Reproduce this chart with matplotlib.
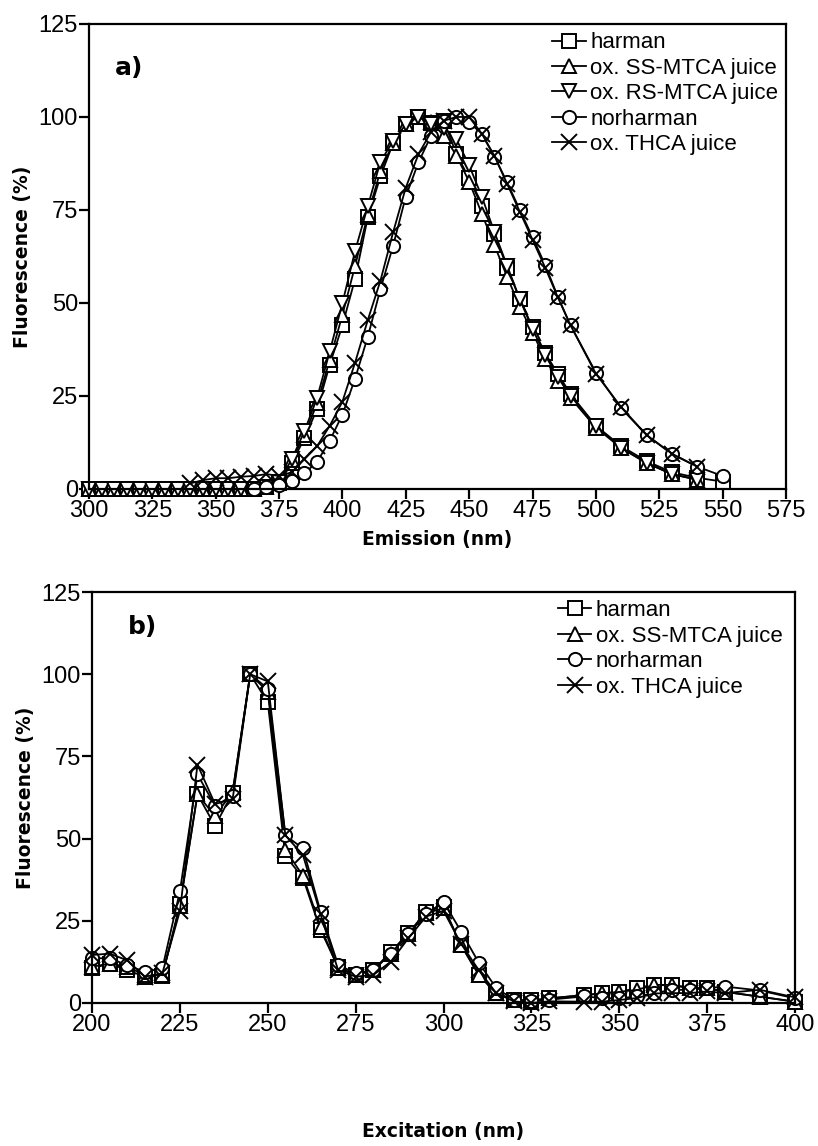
import numpy as np
import matplotlib
matplotlib.use('Agg')
import matplotlib.pyplot as plt

nan = np.nan

# pannello a) spettri di emissione
em_x = list(range(300, 495, 5)) + [500, 510, 520, 530, 540, 550]

harman_a = [0, 0, 0, 0, 0, 0, 0, 0, 0, 0, 0, 0, 0, 0, 0.5, 1.5,
            7, 13.6, 21.5, 33.4, 44, 56.5, 73, 84, 93, 98, 100, 98.5, 99,
            90, 83.5, 76, 68.5, 59.5, 51, 43.5, 36.5, 31, 25.5,
            17, 11.5, 7.5, 4.5, 3, 2]
ss_mtca_a = [0, 0, 0, 0, 0, 0, 0, 0, 0, 0, 0, 0, 0, 0, 0.5, 2,
             7.8, 14.5, 23, 34.7, 46.8, 60, 73.7, 85.5, 93, 98, 100, 98.7, 95,
             89.6, 82.6, 74, 65.5, 57, 49, 42, 35, 29, 24.5,
             16.5, 11, 7, 4, 2.5, nan]
rs_mtca_a = [0, 0, 0, 0, 0, 0, 0, 0, 0, 0, 0, 0, 0, 0, 0.5, 2,
             8, 15.5, 24.5, 37, 50, 64, 76, 88, 93.5, 98, 100, 98, 97,
             94, 87, 78.6, 69, 60, 51, 43, 36, 30, 25,
             17, 11, 7, 4, 2.5, nan]
norharman_a = [nan, nan, nan, nan, nan, nan, nan, nan, nan, nan, nan, nan, nan, 0, 0.5, 1,
               2.2, 4.2, 7.3, 13, 20, 29.7, 40.9, 53.7, 65.4, 78.6, 87.8, 95, 99,
               100, 98.7, 95.4, 89.3, 82.4, 75, 67.7, 60.2, 51.7, 44,
               31.3, 21.7, 14.5, 9.4, 6, 3.5]
thca_a = [nan, nan, nan, nan, nan, nan, nan, nan, 1.5, 2.4, 2.9, 2.9, 3.3, 3.5, 4, 3.5,
          4.5, 8, 11.5, 17, 23.5, 34, 45.4, 56, 69, 81, 90, 96, 99,
          100, 100, 95.5, 89.5, 82, 74.5, 67, 59.5, 51.5, 44,
          31, 22, 14.5, 9.5, 6, nan]

# pannello b) spettri di eccitazione
ex_x = list(range(200, 335, 5)) + list(range(340, 385, 5)) + [390, 400]

harman_b = [10.5, 12, 10, 8, 8.2, 30, 63.5, 53.8, 64, 100, 91.4, 44.8, 38, 22.2,
            11, 8.5, 10, 15.6, 21.2, 27.8, 29.3, 17.6, 8.5, 3.1, 0.9, 0.9, 1.4,
            2.4, 2.9, 3.4, 4.5, 5.5, 5.5, 4.5, 4.5, 3.4, 1.9, 0.4]
ss_mtca_b = [11, 12, 11, 8.5, 8.5, 29.4, 63.5, 56.8, 64.3, 100, 94.7, 46.6, 38.7, 23.2,
             10.5, 8.5, 10, 15, 21, 27.3, 28.8, 17.6, 8.5, 2.9, 0.9, 0.4, 1.4,
             2.4, 2.9, 3.4, 4, 5.5, 5.5, 4.5, 4.5, 3.4, 1.9, 0.4]
norharman_b = [13.6, 13.6, 11.5, 9.5, 10.5, 34, 69.5, 60, 63, 100, 95.6, 51, 47, 27.8,
               11.6, 9, 10, 15, 21, 27, 30.8, 21.7, 12.3, 4.5, 1, 0.5, 1,
               2, 1.5, 1.4, 2, 3, 4, 4, 4.5, 5, 3.8, 1.4]
thca_b = [14.6, 15, 13, 8, 9, 28, 72.5, 60.5, 62, 100, 97.8, 51, 45, 27,
          10, 8, 8.5, 12.6, 19.7, 26.3, 28, 18, 10, 3, 0.5, 0, 0.5,
          0.4, 0.4, 0.9, 1.5, 2.9, 3, 3, 3.5, 3, 4, 1.7]

tick_font = 'Liberation Sans'
lab = dict(fontsize=13.5, fontweight='bold', family='DejaVu Sans')
stile = dict(color='black', lw=1.3, mec='black', mfc='white', mew=1.4, clip_on=False)
leg = dict(loc='upper left', frameon=False, prop={'family': tick_font, 'size': 16},
           handlelength=1.5, handletextpad=0.2, labelspacing=0.2,
           borderpad=0, borderaxespad=0)


def sistema_assi(ax, xlim, xstep):
    ax.set_xlim(xlim)
    ax.set_ylim(0, 125)
    ax.set_xticks(np.arange(xlim[0], xlim[1] + 1, xstep))
    ax.set_yticks(np.arange(0, 126, 25))
    for s in ax.spines.values():
        s.set_linewidth(1.6)
    ax.tick_params(direction='out', length=7, width=1.6, labelsize=17, pad=1)
    for t in ax.get_xticklabels() + ax.get_yticklabels():
        t.set_family(tick_font)


fig = plt.figure(figsize=(8.18, 11.46), dpi=100)

# GRAFICO a
ax1 = fig.add_axes([0.1088, 0.5733, 0.852, 0.4058])
ax1.plot(em_x, harman_a, marker='s', ms=10, label='harman', **stile)
ax1.plot(em_x, ss_mtca_a, marker='^', ms=10, label='ox. SS-MTCA juice', **stile)
ax1.plot(em_x, rs_mtca_a, marker='v', ms=10, label='ox. RS-MTCA juice', **stile)
ax1.plot(em_x, norharman_a, marker='o', ms=9.5, label='norharman', **stile)
ax1.plot(em_x, thca_a, marker='x', ms=12, label='ox. THCA juice', **stile)
sistema_assi(ax1, (300, 575), 25)
ax1.set_xlabel('Emission (nm)', labelpad=6, **lab)
ax1.set_ylabel('Fluorescence (%)', labelpad=5, **lab)
ax1.text(0.037, 0.905, 'a)', transform=ax1.transAxes, fontsize=18,
         fontweight='bold', ha='left', va='center')
ax1.legend(bbox_to_anchor=(0.665, 0.982), **leg)

# GRAFICO b
ax2 = fig.add_axes([0.1125, 0.1248, 0.8595, 0.3586])
ax2.plot(ex_x, harman_b, marker='s', ms=10, label='harman', **stile)
ax2.plot(ex_x, ss_mtca_b, marker='^', ms=10, label='ox. SS-MTCA juice', **stile)
ax2.plot(ex_x, norharman_b, marker='o', ms=9.5, label='norharman', **stile)
ax2.plot(ex_x, thca_b, marker='x', ms=12, label='ox. THCA juice', **stile)
sistema_assi(ax2, (200, 400), 25)
ax2.set_xlabel('Excitation (nm)', labelpad=10, **lab)
ax2.xaxis.set_label_coords(0.5, -0.29)
ax2.set_ylabel('Fluorescence (%)', labelpad=5, **lab)
ax2.text(0.051, 0.915, 'b)', transform=ax2.transAxes, fontsize=18,
         fontweight='bold', ha='left', va='center')
ax2.legend(bbox_to_anchor=(0.663, 0.98), **leg)

fig.savefig('out.png', dpi=100)
